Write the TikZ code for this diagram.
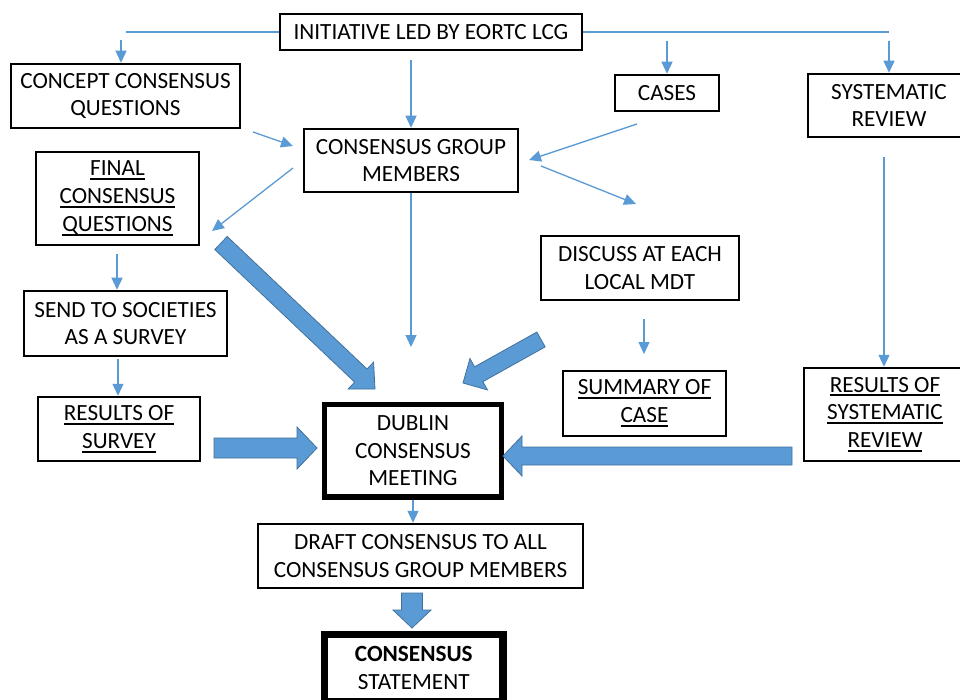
\documentclass[tikz,border=0pt]{standalone}
\usepackage{fontspec}
\setmainfont{Carlito}
\usetikzlibrary{calc,arrows.meta}
\definecolor{ablue}{HTML}{5B9BD5}
\definecolor{bline}{HTML}{41719C}
\newcommand\ulx[1]{\setbox0\hbox{#1}\rlap{\rule[-4.4pt]{\wd0}{2pt}}\box0}
\newcommand\blockarr[5]{%
  \coordinate (hb) at ($(#2)!#5!(#1)$);
  \filldraw[blockarrow] ($(#1)!#3!90:(#2)$) -- ($(hb)!#3!90:(#2)$) -- ($(hb)!#4!90:(#2)$)
    -- (#2) -- ($(hb)!#4!-90:(#2)$) -- ($(hb)!#3!-90:(#2)$) -- ($(#1)!#3!-90:(#2)$) -- cycle;
}
\begin{document}
\begin{tikzpicture}[x=1pt,y=-1pt,
  box/.style={draw=black,line width=2.5pt,fill=white,inner sep=0pt,align=center,
    font=\fontsize{23.2}{27.8}\selectfont},
  thickbox/.style={box,line width=5.7pt},
  thinarr/.style={draw=ablue,line width=1.3pt,-{Triangle[width=11pt,length=12pt]}},
  thinline/.style={draw=ablue,line width=1.3pt},
  blockarrow/.style={fill=ablue,draw=bline,line width=0.8pt,line join=miter}]
\fill[white] (0,0) rectangle (960,700);
\useasboundingbox (0,0) rectangle (960,700);

% boxes
\node[box,minimum width=302pt,minimum height=36pt] (init) at (431,32) {INITIATIVE LED BY EORTC LCG};
\node[box,minimum width=229pt,minimum height=64pt] (concept) at (125.5,96) {CONCEPT CONSENSUS\\QUESTIONS};
\node[box,minimum width=214pt,minimum height=63pt] (cgm) at (411,160.5) {CONSENSUS GROUP\\MEMBERS};
\node[box,minimum width=163pt,minimum height=93pt] (final) at (117.5,198.5) {\ulx{FINAL}\\\ulx{CONSENSUS}\\\ulx{QUESTIONS}};
\node[box,minimum width=104pt,minimum height=36pt] (cases) at (667,93) {CASES};
\node[box,minimum width=162pt,minimum height=63pt] (sysrev) at (889,105.5) {SYSTEMATIC\\REVIEW};
\node[box,minimum width=198pt,minimum height=64pt] (discuss) at (640,268) {DISCUSS AT EACH\\LOCAL MDT};
\node[box,minimum width=203pt,minimum height=65pt] (send) at (125.5,323.5) {SEND TO SOCIETIES\\AS A SURVEY};
\node[box,minimum width=162pt,minimum height=64pt] (ressurv) at (119,429) {\ulx{RESULTS OF}\\\ulx{SURVEY}};
\node[thickbox,minimum width=177pt,minimum height=92.5pt] (dublin) at (413,450.75) {DUBLIN\\CONSENSUS\\MEETING};
\node[box,minimum width=163pt,minimum height=65pt] (summary) at (644.5,403.5) {\ulx{SUMMARY OF}\\\ulx{CASE}};
\node[box,minimum width=162pt,minimum height=93pt] (ressr) at (885,414.5) {\ulx{RESULTS OF}\\\ulx{SYSTEMATIC}\\\ulx{REVIEW}};
\node[box,minimum width=325pt,minimum height=64pt] (draft) at (420.5,556) {DRAFT CONSENSUS TO ALL\\CONSENSUS GROUP MEMBERS};
\node[box,line width=7.5pt,minimum width=178.5pt,minimum height=67pt] (cstate) at (413.75,668) {\textbf{CONSENSUS}\\STATEMENT};

% thin connectors
\coordinate (tl) at (125.5,32);
\draw[thinline] (init.west) -- (tl);
\coordinate (c2) at (121,40);
\draw[thinarr] (c2) -- (c2 |- concept.north);
\coordinate (tr) at (889,32);
\draw[thinline] (init.east) -- (tr);
\coordinate (c4) at (667,41);
\draw[thinarr] (c4) -- (cases.north);
\coordinate (c5) at (889,41);
\draw[thinarr] (c5) -- (sysrev.north);
\coordinate (c6) at (411,60);
\draw[thinarr] (c6) -- (cgm.north);
\coordinate (c7a) at (253,132); \coordinate (c7b) at (293,146);
\draw[thinarr] (c7a) -- (c7b);
\coordinate (c8a) at (293,168); \coordinate (c8b) at (212,231);
\draw[thinarr] (c8a) -- (c8b);
\coordinate (c9a) at (637,124); \coordinate (c9b) at (529,160);
\draw[thinarr] (c9a) -- (c9b);
\coordinate (c10a) at (541,166); \coordinate (c10b) at (636,204);
\draw[thinarr] (c10a) -- (c10b);
\coordinate (c11) at (411,347);
\draw[thinarr] (cgm.south) -- (c11);
\coordinate (c12) at (884,157);
\draw[thinarr] (c12) -- (c12 |- ressr.north);
\coordinate (c13) at (117,254);
\draw[thinarr] (c13) -- (c13 |- send.north);
\coordinate (c14) at (118,359);
\draw[thinarr] (c14) -- (c14 |- ressurv.north);
\coordinate (c15a) at (644,319); \coordinate (c15b) at (644,354);
\draw[thinarr] (c15a) -- (c15b);
\draw[thinarr] (dublin.south) -- (dublin.south |- draft.north);

% block arrows
\coordinate (Aa) at (221,243); \coordinate (Ab) at (375,389);
\blockarr{Aa}{Ab}{9pt}{18.5pt}{19.5pt}
\coordinate (Ba) at (541,339.5); \coordinate (Bb) at (463,383);
\blockarr{Ba}{Bb}{8.5pt}{18pt}{18pt}
\coordinate (Ca) at (792,456); \coordinate (Cb) at (503,456);
\blockarr{Ca}{Cb}{9pt}{20pt}{19pt}
\coordinate (Da) at (214,448); \coordinate (Db) at (317,448);
\blockarr{Da}{Db}{10pt}{21pt}{20pt}
\coordinate (Ea) at (412,593); \coordinate (Eb) at (412,628);
\blockarr{Ea}{Eb}{10.5pt}{19pt}{18pt}
\end{tikzpicture}
\end{document}
